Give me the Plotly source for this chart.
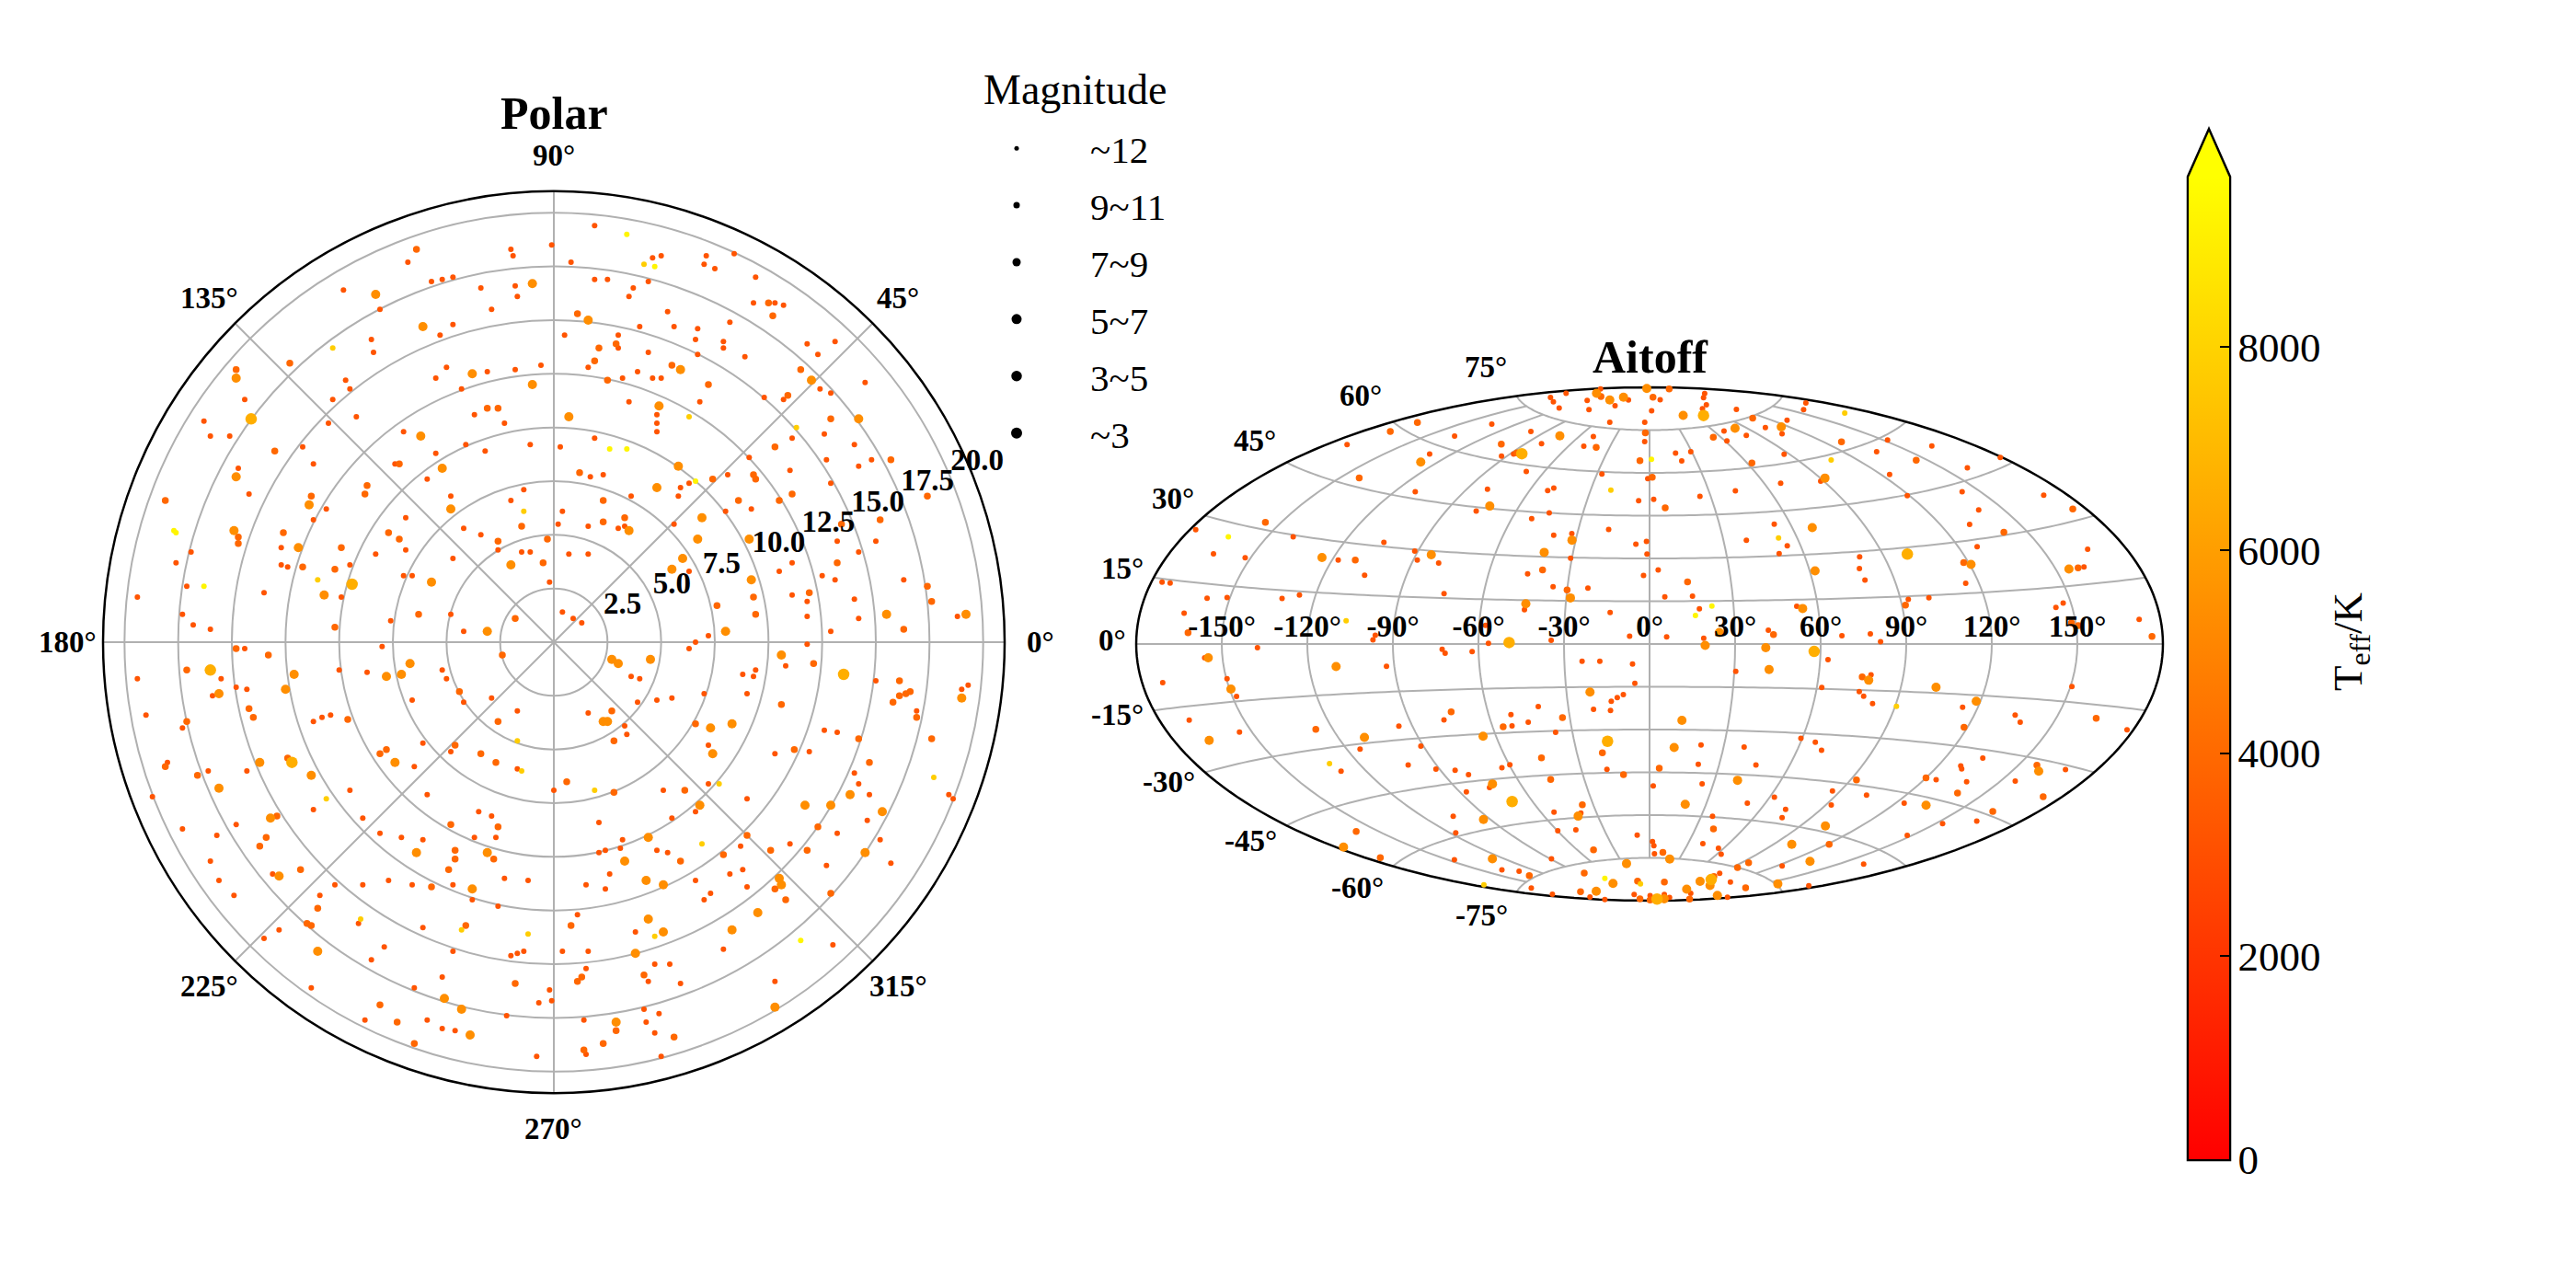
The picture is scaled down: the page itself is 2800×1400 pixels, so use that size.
import numpy as np
import plotly.graph_objects as go

# star groups: brightness class -> typical magnitude, typical Teff and marker size
group_mag = [11, 8.5, 6, 4, 11, 11]
group_teff = [3200, 3900, 5400, 6600, 7800, 9300]
group_size = [6, 7.5, 10, 12.5, 6, 6]

# polar panel, star positions as (east, north) in radial axis units
polar_small = [(1.9,19.4),(-2.0,18.3),(-1.9,18.0),(-0.1,18.5),(7.1,18.0),(7.0,17.6),(5.0,18.0),(4.6,17.9),(8.4,18.1),(-6.8,17.7),(0.8,17.7),(7.5,17.4),(-4.7,17.0),(-5.2,16.9),(-5.7,16.8),(1.9,16.9),(2.5,16.9),(4.4,16.8),(9.4,17.0),(-3.4,16.5),(-1.8,16.6),(-1.7,16.1),(-9.8,16.4),(3.7,16.5),(3.5,16.1),(-8.1,15.5),(10.7,15.7),(9.3,15.8),(10.3,15.8),(-2.9,15.5),(5.3,15.4),(4.0,14.7),(-4.7,14.8),(5.6,14.7),(6.7,14.6),(8.2,14.9),(-8.5,14.1),(-5.3,14.3),(0.5,14.3),(3.0,14.3),(3.0,13.7),(6.6,14.1),(7.9,14.0),(7.9,13.7),(11.8,13.9),(13.1,14.0),(12.3,13.4),(-8.4,13.5),(4.4,13.5),(8.9,13.3),(6.7,13.4),(1.6,12.8),(-5.0,12.8),(-0.6,12.9),(-1.8,12.7),(-3.1,12.6),(5.0,12.3),(4.6,12.3),(3.9,12.6),(3.2,12.3),(-9.7,12.2),(-9.5,11.8),(-5.5,12.3),(14.5,12.1),(12.4,11.8),(-4.3,11.8),(10.7,11.3),(9.8,11.4),(12.9,11.6),(-14.4,11.3),(3.5,11.2),(6.8,11.2),(-10.3,11.3),(4.8,10.6),(4.8,10.2),(4.8,9.8),(-9.2,10.5),(-3.7,10.6),(-2.3,10.2),(-16.3,10.3),(-7.0,9.8),(-16.0,9.6),(-15.1,9.6),(-10.5,10.2),(14.0,9.2),(11.1,9.5),(12.6,9.7),(9.1,8.6),(1.9,9.5),(0.3,9.1),(-1.1,9.2),(-3.2,8.9),(-4.1,9.2),(-5.5,8.8),(-11.7,9.1),(14.8,8.5),(12.7,8.5),(-7.4,8.3),(-11.2,8.3),(-5.9,7.6),(11.0,8.0),(-14.7,8.1),(1.7,7.7),(2.3,7.8),(8.1,7.8),(6.3,7.4),(5.9,7.2),(5.8,6.8),(12.9,7.4),(-14.2,6.9),(-4.8,6.8),(-2.0,6.6),(-1.4,7.1),(14.2,8.2),(-10.6,6.2),(3.6,6.8),(9.2,6.2),(8.0,6.1),(0.4,6.1),(-6.9,5.8),(-16.9,4.2),(-3.4,5.0),(-4.2,5.3),(-11.2,5.7),(3.3,5.4),(3.0,5.3),(0.2,5.5),(1.6,5.4),(5.6,5.5),(-12.7,4.4),(-8.3,4.1),(-1.1,4.2),(-2.6,4.3),(-1.5,4.2),(0.7,4.1),(-4.7,3.9),(-6.9,4.3),(1.6,4.1),(15.0,4.7),(14.2,4.2),(13.2,4.7),(11.1,3.7),(-12.7,3.6),(-12.4,3.5),(-9.5,3.6),(-7.0,3.1),(-6.6,3.1),(-17.1,2.6),(-17.6,3.7),(-19.4,2.1),(-13.5,2.3),(6.3,3.3),(-0.2,2.8),(16.3,2.9),(12.5,3.1),(10.5,3.3),(13.1,2.9),(11.1,2.2),(11.8,1.9),(14.0,2.0),(18.8,1.2),(-9.9,2.1),(12.9,0.5),(14.2,1.1),(11.8,1.2),(7.2,0.3),(-17.3,1.3),(-16.0,0.6),(-16.8,0.8),(-4.8,1.3),(-4.2,0.5),(0.9,1.1),(1.3,0.9),(0.4,1.4),(-7.6,1.0),(-14.4,-0.3),(-8.0,-0.2),(-10.0,-1.3),(-8.7,-1.4),(6.6,0.0),(6.3,-0.3),(11.8,-0.1),(10.8,-1.1),(9.4,-1.3),(8.8,-1.5),(-5.2,-1.3),(-5.0,-1.7),(3.6,-1.6),(4.0,-1.7),(-19.4,-1.7),(15.0,-1.8),(19.3,-2.0),(19.0,-2.2),(9.3,-1.6),(-15.9,-2.5),(-15.5,-1.7),(-14.8,-2.1),(-14.3,-2.2),(-4.2,-2.8),(-2.9,-2.6),(3.9,-2.8),(4.8,-2.7),(5.5,-2.6),(7.0,-2.4),(9.0,-2.4),(-6.6,-2.7),(16.9,-3.2),(-19.0,-3.4),(-11.2,-3.7),(-10.8,-3.5),(-10.4,-3.4),(-1.7,-3.2),(1.6,-3.3),(3.3,-3.9),(12.6,-4.1),(13.2,-4.2),(-17.3,-4.0),(-6.1,-4.7),(3.4,-4.3),(7.2,-4.8),(11.9,-5.1),(10.3,-5.2),(-14.3,-6.0),(-18.0,-5.6),(-6.5,-5.8),(-4.8,-5.1),(-1.7,-5.9),(14.0,-6.1),(14.2,-6.6),(-16.1,-6.0),(-18.7,-7.2),(0.0,-6.9),(5.1,-6.9),(7.2,-6.6),(9.0,-7.3),(18.4,-7.1),(18.6,-7.3),(14.7,-7.1),(-5.9,-7.1),(-9.5,-6.9),(-11.2,-7.8),(-8.9,-8.2),(-14.8,-8.5),(-17.3,-8.7),(-8.1,-8.9),(-3.5,-7.9),(-2.9,-8.1),(6.6,-7.9),(5.5,-8.2),(2.1,-8.4),(14.6,-8.3),(13.2,-8.9),(15.2,-9.2),(-15.7,-9.0),(-7.1,-9.1),(-6.1,-9.2),(-3.7,-9.1),(-2.7,-9.1),(3.2,-9.2),(2.1,-9.8),(2.4,-9.7),(3.1,-9.6),(4.8,-9.7),(5.3,-9.8),(8.7,-9.5),(11.0,-9.4),(15.7,-10.3),(12.7,-10.4),(-16.0,-10.2),(-13.1,-10.8),(8.8,-10.6),(8.2,-10.8),(-15.6,-11.1),(-10.2,-11.3),(-8.9,-11.3),(-7.7,-11.1),(-6.6,-11.3),(-4.7,-11.3),(-2.3,-11.0),(-1.2,-11.1),(2.6,-10.8),(1.5,-11.3),(2.4,-11.5),(-14.9,-11.8),(-10.9,-11.8),(-3.8,-12.0),(-2.6,-12.3),(6.6,-11.1),(7.3,-11.7),(7.0,-12.0),(9.0,-11.4),(-9.1,-13.1),(-6.1,-13.3),(-13.5,-13.8),(-12.8,-13.4),(1.1,-12.7),(3.8,-13.5),(13.0,-14.1),(7.9,-14.3),(-4.7,-14.4),(-7.9,-14.2),(-1.7,-14.5),(-2.0,-14.6),(-1.4,-14.4),(0.4,-14.4),(1.6,-14.4),(-8.5,-14.8),(4.7,-15.0),(5.4,-15.0),(1.5,-15.2),(-5.2,-15.6),(-0.2,-16.2),(-11.3,-16.1),(-6.5,-16.1),(4.4,-15.8),(5.9,-15.9),(10.3,-15.8),(-8.8,-17.6),(-5.9,-17.6),(-0.7,-16.8),(-0.1,-16.7),(-2.2,-17.4),(4.3,-17.7),(4.9,-17.3),(1.4,-17.6),(-4.6,-18.1),(-5.2,-18.0),(4.2,-17.1),(4.7,-18.2),(1.5,-19.2),(-0.8,-19.3),(5.0,-19.3)]
polar_medium = [(-6.4,18.3),(10.0,15.8),(10.2,15.2),(1.1,15.3),(2.9,13.9),(2.1,13.7),(1.9,13.1),(-12.3,13.0),(5.5,12.9),(-14.8,12.7),(2.5,12.2),(11.5,12.7),(7.2,12.0),(10.9,11.5),(-3.1,10.9),(-2.6,10.9),(12.9,10.4),(-13.0,8.9),(10.3,9.1),(15.7,8.5),(-7.2,8.3),(1.2,7.9),(7.4,7.6),(9.3,7.8),(9.4,7.6),(-8.7,7.3),(-8.8,6.9),(-18.1,6.6),(17.4,6.8),(11.1,6.9),(8.6,6.6),(10.5,6.6),(-11.3,6.8),(2.3,6.6),(-7.7,5.1),(-1.5,5.4),(3.3,5.8),(-12.6,5.1),(13.4,5.5),(15.2,5.7),(2.3,5.6),(-14.7,4.9),(-14.7,4.6),(-9.9,4.4),(-7.2,4.8),(-2.6,4.7),(-0.3,4.8),(-0.5,3.7),(13.2,3.7),(-11.7,3.5),(-10.2,3.4),(17.4,2.6),(9.3,2.1),(11.9,2.3),(17.6,1.9),(7.6,1.7),(16.3,0.6),(-6.3,1.3),(9.4,1.3),(-10.2,0.7),(-1.8,1.1),(-14.8,-0.3),(-13.3,-0.6),(-2.4,-0.6),(12.1,-1.0),(-17.1,-1.3),(16.1,-1.8),(16.1,-2.5),(16.6,-2.3),(16.4,-2.4),(15.8,-2.8),(-4.4,-2.3),(-14.2,-3.1),(10.6,-2.9),(16.9,-3.5),(-14.0,-3.5),(-9.6,-3.6),(2.7,-3.2),(6.6,-3.8),(14.2,-4.5),(17.6,-4.5),(-17.1,-3.7),(-2.6,-3.7),(-4.6,-4.8),(2.8,-4.6),(11.2,-5.0),(-16.6,-6.2),(-18.1,-5.8),(-12.4,-5.4),(-8.1,-5.2),(-7.8,-5.0),(-3.4,-5.2),(-2.7,-5.6),(14.7,-5.6),(0.6,-6.5),(2.8,-7.0),(6.1,-6.9),(-12.9,-8.1),(-4.8,-8.5),(-2.6,-8.6),(12.3,-8.6),(-13.4,-9.1),(-13.7,-9.5),(9.0,-9.0),(11.8,-9.7),(10.1,-9.7),(-4.6,-9.7),(-4.6,-10.1),(-2.8,-10.1),(7.9,-9.9),(-11.8,-10.6),(-4.9,-10.6),(5.9,-10.2),(10.3,-11.5),(-5.7,-11.4),(12.9,-11.7),(10.8,-12.0),(-11.0,-12.4),(-11.5,-13.1),(-11.3,-13.2),(-4.1,-13.2),(0.8,-13.2),(4.2,-15.5),(1.3,-15.6),(1.1,-15.8),(-1.8,-15.9),(-8.1,-16.9),(-7.3,-17.7),(5.6,-18.4),(2.3,-18.7),(1.4,-19.0),(-6.5,-18.7),(2.9,-18.1)]
polar_large = [(-1.0,16.7),(-8.3,16.2),(1.6,15.0),(-6.1,14.7),(-14.8,12.3),(5.9,12.7),(-3.8,12.5),(12.0,12.2),(-1.0,12.0),(4.9,11.0),(14.2,10.4),(0.7,10.5),(-6.2,9.6),(5.8,8.2),(-5.2,8.1),(-14.8,7.7),(4.8,7.2),(-11.4,6.4),(-4.8,6.2),(6.9,5.8),(-14.9,5.2),(3.5,5.2),(6.7,4.8),(9.1,4.8),(-11.9,4.4),(-2.0,3.6),(-5.7,2.8),(-10.7,2.2),(6.0,3.9),(5.5,3.4),(9.2,2.9),(19.2,1.3),(15.5,1.3),(8.0,0.5),(-3.1,0.5),(-6.7,-1.0),(2.7,-0.8),(3.0,-1.0),(4.5,-0.8),(10.6,-0.6),(-12.1,-1.5),(-7.8,-1.6),(-7.1,-1.5),(19.0,-2.6),(-15.6,-2.4),(-12.5,-2.2),(2.3,-3.7),(2.5,-3.7),(7.3,-4.0),(8.3,-3.8),(7.4,-5.2),(-13.7,-5.6),(-11.3,-6.2),(-7.4,-5.6),(-15.6,-6.8),(11.7,-7.6),(12.9,-7.6),(13.8,-7.1),(15.3,-7.9),(-13.2,-8.2),(6.8,-7.6),(4.4,-9.1),(14.5,-9.8),(-6.4,-9.8),(-3.1,-9.8),(-12.8,-10.9),(3.3,-10.2),(4.3,-11.1),(5.1,-11.3),(10.5,-11.0),(10.6,-11.3),(-3.8,-11.5),(9.5,-12.6),(4.4,-12.9),(5.1,-13.5),(8.3,-13.4),(-11.0,-14.4),(3.8,-14.5),(-5.1,-16.6),(-4.3,-17.1),(10.3,-17.0),(2.9,-17.7),(-3.9,-18.3)]
polar_bright = [(-14.1,10.4),(-9.4,2.7),(13.5,-1.5),(-16.0,-1.3),(-12.2,-5.6)]
polar_warm = [(4.2,17.6),(-10.3,13.7),(11.3,10.0),(6.3,10.5),(-1.4,6.1),(-11.0,2.9),(-1.7,-4.6),(-1.5,-6.0),(-10.6,-7.3),(6.9,-9.4),(1.9,-6.9),(7.7,-6.6),(17.7,-6.3),(-9.0,-12.9),(-4.3,-13.4),(4.7,-13.7),(-1.2,-13.6)]
polar_hot = [(3.4,19.0),(4.7,17.5),(2.6,9.0),(3.4,9.0),(6.6,7.5),(-17.7,5.2),(-17.6,5.1),(-16.3,2.6),(11.5,-13.9)]

# aitoff panel, star positions read as (x, y) on the map plane, in degrees
aitoff_small = [(-34.7,86.5),(-33.7,84.9),(-29.5,87.7),(-21.9,85.4),(-17.5,89.3),(-12.1,83.4),(-7.4,85.5),(3.7,85.7),(19.4,87.7),(18.9,86.4),(19.9,83.9),(18.5,82.6),(0.7,81.8),(-21.2,82.3),(-31.7,82.7),(-14.0,77.6),(-1.7,77.8),(-1.7,70.9),(30.5,82.1),(40.6,76.0),(26.1,74.8),(27.1,71.2),(33.9,73.2),(46.5,73.7),(48.2,78.5),(54.6,84.7),(53.9,82.3),(83.4,71.6),(79.7,67.4),(99.1,69.3),(123.0,65.3),(111.4,61.7),(47.2,66.5),(60.0,57.1),(46.0,56.3),(30.0,53.8),(84.1,59.5),(90.3,52.0),(109.7,53.3),(138.3,52.1),(115.4,47.0),(112.2,41.8),(114.9,34.2),(153.5,33.4),(152.3,27.1),(73.6,30.6),(73.6,26.3),(75.5,22.4),(110.9,21.2),(43.8,42.1),(33.9,36.5),(48.2,34.5),(45.5,31.7),(97.9,16.3),(90.8,15.5),(145.1,14.5),(142.4,12.8),(171.7,8.6),(51.7,13.2),(17.5,12.3),(15.0,16.8),(5.4,16.5),(3.0,26.0),(-2.2,23.9),(17.7,51.8),(1.5,50.7),(-3.9,50.2),(11.3,64.3),(9.1,66.8),(14.5,67.4),(-0.7,57.9),(-16.7,59.5),(-23.1,69.3),(-19.7,72.7),(-37.9,70.2),(-41.6,74.4),(-47.7,66.6),(-51.9,66.0),(-55.4,77.0),(-68.4,72.9),(-77.2,66.6),(-106.0,69.9),(-82.2,53.3),(-56.8,54.3),(-60.8,46.7),(-41.3,43.9),(-35.2,45.9),(-33.5,54.8),(-35.7,53.8),(-43.3,60.4),(-159.2,40.0),(-125.0,37.7),(-153.0,31.6),(-141.7,30.3),(-109.2,29.4),(-93.2,35.5),(-82.4,32.6),(-81.4,29.4),(-74.0,28.3),(-99.9,24.2),(-33.7,38.2),(-27.3,38.8),(-27.6,30.1),(-14.3,40.1),(-4.7,35.0),(-1.0,35.9),(-1.0,31.6),(-42.8,24.5),(-33.9,20.1),(-21.6,19.6),(-72.1,17.8),(-128.9,16.1),(-122.8,17.3),(-148.1,16.3),(-155.2,16.1),(-171.0,21.9),(-168.0,21.5),(-163.3,10.9),(-43.8,12.0),(-13.8,11.0),(-57.6,6.6),(-96.9,1.3),(-96.2,3.0),(-56.6,0.2),(-34.4,1.2),(-7.1,2.8),(5.9,2.6),(18.9,2.0),(41.6,4.8),(67.4,2.8),(77.5,3.5),(80.9,0.8),(-137.5,-1.2),(-156.0,-4.9),(-92.3,-7.7),(-72.8,-2.0),(-71.6,-3.1),(-62.2,-2.5),(-23.6,-6.1),(-17.5,-6.1),(-5.9,-6.9),(30.3,-9.7),(62.5,-5.6),(77.7,-10.7),(60.3,-15.1),(73.6,-16.6),(75.0,-18.3),(148.1,-14.8),(-170.7,-13.7),(-148.1,-12.3),(-144.9,-18.4),(-5.2,-13.8),(-9.1,-17.8),(-11.3,-18.9),(-13.5,-20.1),(78.2,-20.9),(109.7,-22.2),(-39.1,-21.9),(-72.1,-26.6),(-48.5,-24.7),(-19.7,-22.9),(-13.8,-23.2),(-42.6,-27.5),(-48.2,-28.6),(-87.8,-28.8),(-161.4,-26.6),(-143.9,-30.9),(-33.0,-30.9),(128.2,-25.0),(129.9,-27.5),(167.3,-30.1),(53.1,-33.1),(58.1,-34.4),(60.3,-37.3),(33.2,-36.2),(18.0,-35.5),(-80.2,-35.9),(-101.4,-37.0),(-108.2,-44.6),(-84.6,-42.3),(-75.0,-43.9),(-68.1,-44.3),(-63.5,-45.7),(-51.7,-43.4),(-49.0,-42.3),(-15.0,-43.9),(17.0,-42.3),(37.4,-42.4),(116.9,-40.1),(109.2,-42.8),(109.5,-43.9),(145.9,-43.9),(100.4,-47.7),(111.2,-48.2),(128.2,-48.0),(18.5,-49.0),(1.2,-49.7),(-56.1,-50.2),(-64.2,-51.7),(64.2,-51.5),(76.0,-53.0),(43.8,-53.6),(34.2,-55.9),(63.7,-56.4),(89.3,-55.8),(47.7,-57.9),(-24.1,-59.2),(-33.5,-58.9),(-68.9,-60.5),(22.1,-60.4),(46.5,-60.9),(102.8,-63.0),(114.6,-62.3),(-32.2,-65.6),(-25.8,-65.1),(-67.9,-66.3),(-68.4,-75.8),(-4.4,-67.0),(1.0,-69.3),(1.5,-70.7),(1.7,-73.5),(18.7,-69.9),(24.1,-71.6),(25.1,-73.7),(90.3,-67.3),(46.5,-77.8),(75.0,-77.3),(-34.4,-75.5),(-51.7,-79.3),(-45.8,-79.5),(-41.6,-85.5),(24.6,-80.4),(28.3,-83.6),(55.6,-84.9),(14.5,-87.3),(5.2,-87.7),(-5.4,-87.8),(0.2,-88.3),(-34.2,-87.7),(-20.7,-88.8),(-15.3,-89.7),(7.1,-88.7),(27.3,-88.8)]
aitoff_medium = [(-17.0,86.9),(1.2,86.4),(7.1,89.3),(-1.5,74.0),(36.2,79.1),(22.4,72.4),(67.4,70.7),(93.5,64.5),(35.9,63.5),(148.3,47.4),(124.2,39.3),(110.2,28.5),(150.3,26.6),(89.8,13.7),(176.1,2.6),(147.8,7.4),(150.3,6.3),(13.3,21.7),(5.4,47.7),(-3.4,64.2),(1.0,58.6),(-18.7,69.1),(-46.5,67.1),(-51.9,70.2),(-90.8,74.7),(-81.4,77.6),(-101.8,58.1),(-134.8,42.6),(-103.1,29.3),(-37.4,26.0),(-29.0,18.9),(-161.9,3.8),(43.5,3.3),(74.5,-11.5),(-69.6,-23.9),(-30.5,-25.8),(-51.4,-29.1),(-117.1,-29.9),(156.7,-26.0),(110.2,-29.1),(-16.5,-38.2),(-37.9,-39.8),(-9.1,-45.7),(3.4,-43.6),(135.8,-42.6),(96.9,-46.9),(72.6,-47.7),(-34.7,-47.4),(108.0,-52.3),(138.0,-53.5),(-23.6,-56.4),(120.3,-58.7),(22.4,-64.8),(-102.8,-65.8),(-94.5,-74.8),(4.7,-73.0),(-19.7,-72.1),(63.0,-70.1),(34.7,-76.8),(30.8,-78.5),(-42.1,-81.3),(-22.9,-80.4),(-4.2,-83.1),(5.2,-83.4),(22.6,-81.4),(33.5,-85.7),(-24.1,-87.0),(-3.4,-89.3),(13.8,-89.5),(0.2,-89.7)]
aitoff_large = [(-18.5,88.0),(-14.0,85.4),(-9.1,86.7),(-1.0,89.5),(11.8,80.1),(30.0,75.7),(46.2,76.2),(61.5,58.2),(112.7,27.8),(147.1,26.2),(57.1,40.8),(58.1,25.7),(53.6,12.5),(-80.2,63.8),(-31.5,72.9),(-56.1,48.4),(-114.9,30.4),(-76.5,31.3),(-27.1,36.4),(-36.9,32.2),(-27.8,16.1),(-43.5,14.0),(24.4,4.1),(19.4,-0.5),(40.8,-1.2),(-154.7,-4.8),(-110.0,-7.9),(41.8,-8.9),(76.8,-12.7),(100.4,-15.1),(-146.9,-15.8),(-20.9,-16.9),(114.6,-20.2),(-99.9,-32.6),(-154.5,-33.6),(-58.3,-32.2),(11.3,-26.8),(8.6,-36.2),(136.5,-44.6),(30.8,-47.7),(-55.1,-49.2),(12.5,-56.1),(96.9,-56.4),(-25.1,-60.4),(-58.3,-61.5),(61.7,-63.8),(-107.3,-71.2),(-55.1,-75.5),(7.1,-75.5),(-8.1,-77.0),(49.9,-70.1),(56.3,-76.2),(-12.8,-84.1),(17.7,-83.2),(21.2,-84.7),(45.0,-84.1),(-18.7,-86.7),(13.0,-86.0),(23.6,-88.3),(5.2,-89.3)]
aitoff_bright = [(18.9,80.1),(-44.8,66.8),(90.3,31.6),(-49.2,0.5),(57.8,-2.6),(-14.8,-34.1),(-48.2,-55.3),(21.6,-82.6),(2.7,-89.3)]
aitoff_warm = [(68.6,80.8),(63.7,64.5),(-13.5,54.0),(45.3,37.2),(-106.3,8.2),(86.6,-21.9),(-112.2,-41.9),(-58.1,-84.4),(-3.2,-84.1)]
aitoff_hot = [(-147.8,37.5),(0.7,64.8),(21.9,13.3),(16.2,10.0),(-15.7,-82.1)]

polar_groups = [polar_small, polar_medium, polar_large, polar_bright, polar_warm, polar_hot]
aitoff_groups = [aitoff_small, aitoff_medium, aitoff_large, aitoff_bright, aitoff_warm, aitoff_hot]

# legend and axis labels
legend_labels = ['~12', '9~11', '7~9', '5~7', '3~5', '~3']
legend_sizes = [5, 7, 9, 11, 11.5, 12]
radial_ticks = [2.5, 5, 7.5, 10, 12.5, 15, 17.5, 20]
angle_ticks = [0, 45, 90, 135, 180, 225, 270, 315]
lon_ticks = [-150, -120, -90, -60, -30, 0, 30, 60, 90, 120, 150]
lat_ticks = [75, 60, 45, 30, 15, 0, -15, -30, -45, -60, -75]
# where the latitude labels sit on the page, pixels
lat_label_x = [1615, 1479, 1364, 1275, 1220, 1209, 1214, 1270, 1359, 1475, 1610]
lat_label_y = [399, 430, 479, 542, 618, 696, 777, 850, 914, 965, 995]
cbar_ticks = [0, 2000, 4000, 6000, 8000]
teff_max = 9680

W, H = 2800, 1400
SERIF = 'Liberation Serif'
GRID = '#b0b0b0'
BOLD = dict(family=SERIF, size=33, color='black', weight='bold')


# the browser puts an 8px margin round the page, so every page position is moved back by it
def fx(px):
    return (px - 8) / W


def fy(py):
    return 1 - (py - 8) / H


# lookup table for going from the aitoff map plane back to lon/lat
lon_mesh, lat_mesh = np.meshgrid(np.arange(-180, 180.01, 0.25), np.arange(-90, 90.01, 0.25))
half_lon, lat_rad = np.radians(lon_mesh) / 2, np.radians(lat_mesh)
alpha = np.arccos(np.cos(lat_rad) * np.cos(half_lon))
sinc = np.where(alpha < 1e-9, 1.0, np.sin(alpha) / np.where(alpha < 1e-9, 1.0, alpha))
plane_x = np.degrees(2 * np.cos(lat_rad) * np.sin(half_lon) / sinc)
plane_y = np.degrees(np.sin(lat_rad) / sinc)


def plane_to_lonlat(points):
    lons, lats = [], []
    for x, y in points:
        i = np.argmin((plane_x - x) ** 2 + (plane_y - y) ** 2)
        lons.append(float(lon_mesh.flat[i]))
        lats.append(float(lat_mesh.flat[i]))
    return lons, lats


fig = go.Figure()

# meridians stop at +-75 like the original, so they are not the geo grid
for lon in lon_ticks:
    fig.add_trace(go.Scattergeo(lon=[lon, lon, lon], lat=[-75, 0, 75], mode='lines',
                                line=dict(color=GRID, width=2), geo='geo',
                                showlegend=False, hoverinfo='skip'))

for pts, teff, size, mag in zip(polar_groups, group_teff, group_size, group_mag):
    east, north = np.array(pts).T
    fig.add_trace(go.Scatterpolar(
        r=np.hypot(east, north), theta=np.degrees(np.arctan2(north, east)),
        mode='markers', subplot='polar', showlegend=False,
        name='mag ' + str(mag),
        marker=dict(size=size, color=[teff] * len(pts), coloraxis='coloraxis', line_width=0)))

for pts, teff, size, mag in zip(aitoff_groups, group_teff, group_size, group_mag):
    lons, lats = plane_to_lonlat(pts)
    fig.add_trace(go.Scattergeo(
        lon=lons, lat=lats, mode='markers', geo='geo', showlegend=False,
        name='mag ' + str(mag),
        marker=dict(size=size, color=[teff] * len(pts), coloraxis='coloraxis', line_width=0)))

# radial labels stand on the 22.5 degree spoke, right of it like matplotlib's
fig.add_trace(go.Scatterpolar(r=radial_ticks, theta=[22.5] * len(radial_ticks), mode='text',
                              subplot='polar', text=[f'{v:.1f}' for v in radial_ticks],
                              textposition='top right', textfont=BOLD,
                              showlegend=False, hoverinfo='skip'))

# longitude labels
fig.add_trace(go.Scattergeo(lon=lon_ticks, lat=[0] * len(lon_ticks), mode='text', geo='geo',
                            text=[f'{v}°' for v in lon_ticks], textposition='top center',
                            textfont=BOLD, showlegend=False, hoverinfo='skip'))

# magnitude legend, black dots only
for label, size in zip(legend_labels, legend_sizes):
    fig.add_trace(go.Scatterpolar(r=[None], theta=[None], mode='markers', subplot='polar',
                                  name=label, legendgroup=label,
                                  marker=dict(size=size, color='black')))

annotations = [
    dict(text='<b>Polar</b>', x=fx(602), y=fy(123), font=dict(size=50)),
    dict(text='<b>Aitoff</b>', x=fx(1794), y=fy(388), font=dict(size=50)),
    dict(text='Magnitude', x=fx(1168), y=fy(98), font=dict(size=46)),
    dict(text='T<sub>eff</sub>/K', x=fx(2555), y=fy(698), textangle=-90, font=dict(size=45)),
]
for v, px, py in zip(lat_ticks, lat_label_x, lat_label_y):
    annotations.append(dict(text=f'<b>{v}°</b>', x=fx(px), y=fy(py), font=dict(size=33)))
# angle labels are centred on a circle just outside the rim, plotly's own would be anchored to it
for v in angle_ticks:
    annotations.append(dict(text=f'<b>{v}°</b>', font=dict(size=33),
                            x=fx(602 + 529 * np.cos(np.radians(v))),
                            y=fy(698 - 529 * np.sin(np.radians(v)))))
for a in annotations:
    a.update(xref='paper', yref='paper', showarrow=False, xanchor='center', yanchor='middle')
    a['font'].update(family=SERIF, color='black')

fig.update_layout(
    width=W, height=H, margin=dict(l=0, r=0, t=0, b=0),
    template='none', paper_bgcolor='white',
    font=dict(family=SERIF, color='black'),
    annotations=annotations,
    polar=dict(
        domain=dict(x=[fx(112), fx(1092)], y=[fy(1188), fy(208)]),
        bgcolor='white',
        radialaxis=dict(range=[0, 21], tickvals=radial_ticks, angle=22.5, showticklabels=False,
                        showline=False, ticks='', gridcolor=GRID, gridwidth=2),
        angularaxis=dict(rotation=0, direction='counterclockwise', tickmode='array',
                         tickvals=angle_ticks, showticklabels=False, ticks='',
                         showline=True, linecolor='black', linewidth=2.5,
                         gridcolor=GRID, gridwidth=2),
    ),
    geo=dict(
        domain=dict(x=[fx(1173), fx(2413)], y=[fy(1010), fy(390)]),
        projection=dict(type='aitoff', scale=0.9),
        bgcolor='rgba(0,0,0,0)',
        showland=False, showcoastlines=False, showocean=False, showlakes=False,
        showrivers=False, showcountries=False, showsubunits=False,
        showframe=True, framecolor='black', framewidth=2.5,
        lataxis=dict(showgrid=True, dtick=15, gridcolor=GRID, gridwidth=2),
        lonaxis=dict(showgrid=False),
    ),
    coloraxis=dict(
        cmin=0, cmax=teff_max,
        colorscale=[[0, '#ff0000'], [1, '#ffff00']],
        colorbar=dict(
            xref='paper', yref='paper', x=fx(2379), xanchor='left', xpad=0, ypad=0,
            y=fy(1260), yanchor='bottom', lenmode='fraction', len=(1260 - 192) / H,
            thicknessmode='pixels', thickness=44, outlinewidth=0,
            tickvals=cbar_ticks, ticks='inside', ticklen=10, tickwidth=2, tickcolor='black',
            tickfont=dict(family=SERIF, size=45, color='black'),
        ),
    ),
    legend=dict(
        x=fx(1025), y=fy(128), xanchor='left', yanchor='top', bgcolor='rgba(0,0,0,0)',
        itemwidth=150, tracegroupgap=5.6, font=dict(family=SERIF, size=41, color='black'),
    ),
)

# colorbar extend arrow and its outline
fig.add_shape(type='path', xref='paper', yref='paper', layer='below',
              path=f'M {fx(2378)} {fy(1261)} L {fx(2378)} {fy(192)} L {fx(2401)} {fy(140)} '
                   f'L {fx(2424)} {fy(192)} L {fx(2424)} {fy(1261)} Z',
              fillcolor='#ffff00', line=dict(color='black', width=2.5))

fig.write_html("out.html")
